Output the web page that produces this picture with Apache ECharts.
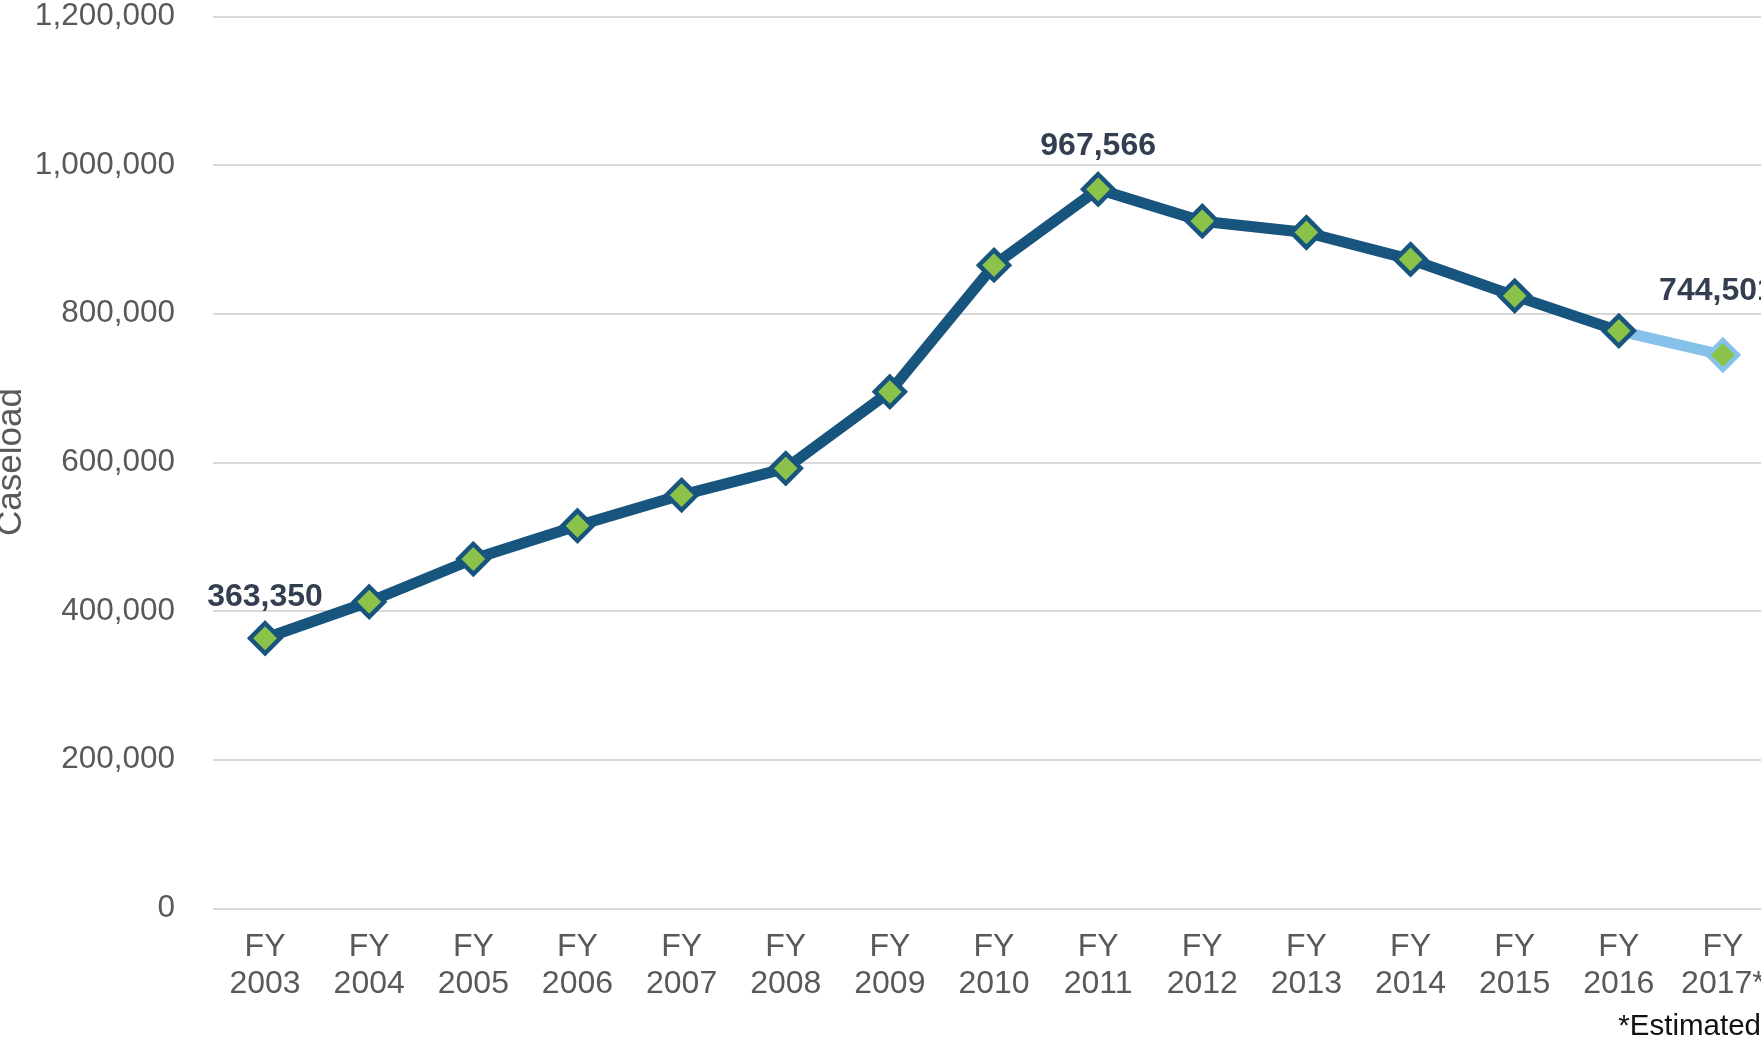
<!DOCTYPE html>
<html>
<head>
<meta charset="utf-8">
<script src="https://cdn.jsdelivr.net/npm/echarts@6/dist/echarts.min.js"></script>
<style>
  html, body { margin: 0; padding: 0; background: #fff; }
  #chart1 { width: 1761px; height: 1041px; }
</style>
</head>
<body>
<div id="chart1"></div>
<script>
// fiscal years (last one is an estimate)
var years = ['FY\n2003', 'FY\n2004', 'FY\n2005', 'FY\n2006', 'FY\n2007', 'FY\n2008', 'FY\n2009', 'FY\n2010',
             'FY\n2011', 'FY\n2012', 'FY\n2013', 'FY\n2014', 'FY\n2015', 'FY\n2016', 'FY\n2017*'];
// caseload per year
var caseload = [363350, 412500, 470000, 514700, 556000, 592000, 695000, 865400,
                967566, 924600, 909400, 873100, 824100, 777000, 744501];
var firstEstimate = 14;           // index of the estimated year
var labelled = [0, 8, 14];        // points that carry a value label
var yTicks = [0, 200000, 400000, 600000, 800000, 1000000, 1200000];

var darkBlue = '#17547e';
var lightBlue = '#85c1e9';
var green = '#8bc34a';

function fmt(v) { return v.toLocaleString('en-US'); }

document.addEventListener('DOMContentLoaded', function () {
  var myChart = echarts.init(document.getElementById('chart1'));

  // actual years
  var actualData = caseload.map(function (v, i) {
    if (i >= firstEstimate) return '-';
    var item = { value: v };
    if (labelled.indexOf(i) >= 0) {
      item.label = { show: true, distance: i === 8 ? 10 : 8 };
    }
    return item;
  });

  // estimated segment (from the last actual year onward)
  var estData = caseload.map(function (v, i) {
    if (i < firstEstimate - 1) return '-';
    var item = { value: v };
    if (i === firstEstimate - 1) {
      item.symbol = 'none';
    }
    if (labelled.indexOf(i) >= 0) {
      item.label = { show: true, distance: 31, offset: [-6, 0] };
    }
    return item;
  });

  var labelStyle = {
    show: false,
    position: 'top',
    fontFamily: 'Liberation Sans, Arial',
    fontWeight: 'bold',
    fontSize: 32,
    color: '#333f50',
    formatter: function (p) { return fmt(p.value); }
  };

  var option = {
    animation: false,
    grid: {
      left: 213,
      right: -14,
      top: 16.5,
      bottom: 132.7,
      containLabel: false,
      outerBoundsMode: 'none'
    },
    xAxis: {
      type: 'category',
      data: years,
      boundaryGap: true,
      axisLine: { show: false },
      axisTick: { show: false },
      axisLabel: {
        interval: 0,
        margin: 20,
        fontFamily: 'Liberation Sans, Arial',
        fontSize: 32,
        lineHeight: 37,
        color: '#595959'
      }
    },
    yAxis: {
      type: 'value',
      min: 0,
      max: yTicks[yTicks.length - 1],
      interval: yTicks[1] - yTicks[0],
      axisLine: { show: false },
      axisTick: { show: false },
      axisLabel: {
        margin: 38,
        fontFamily: 'Liberation Sans, Arial',
        fontSize: 31.5,
        color: '#595959',
        formatter: function (v) { return fmt(v); }
      },
      splitLine: { lineStyle: { color: '#d9d9d9', width: 2 } }
    },
    graphic: [
      {
        // y axis title, drawn by hand so it can sit half off the edge
        type: 'text',
        x: 11,
        y: 462,
        rotation: Math.PI / 2,
        style: {
          text: 'Caseload',
          font: '35px "Liberation Sans", Arial',
          fill: '#595959',
          textAlign: 'center',
          textVerticalAlign: 'middle'
        }
      },
      {
        type: 'text',
        right: 0,
        top: 1012,
        style: {
          text: '*Estimated',
          font: '29.5px "Liberation Sans", Arial',
          fill: '#111'
        }
      }
    ],
    series: [
      {
        name: 'Estimated',
        type: 'line',
        z: 2,
        data: estData,
        symbol: 'diamond',
        symbolSize: 30,
        lineStyle: { color: lightBlue, width: 11 },
        itemStyle: { color: green, borderColor: lightBlue, borderWidth: 4.5 },
        label: labelStyle
      },
      {
        name: 'Caseload',
        type: 'line',
        z: 3,
        data: actualData,
        symbol: 'diamond',
        symbolSize: 30,
        lineStyle: { color: darkBlue, width: 11 },
        itemStyle: { color: green, borderColor: darkBlue, borderWidth: 4.5 },
        label: labelStyle
      }
    ]
  };

  myChart.setOption(option);
});
</script>
</body>
</html>
